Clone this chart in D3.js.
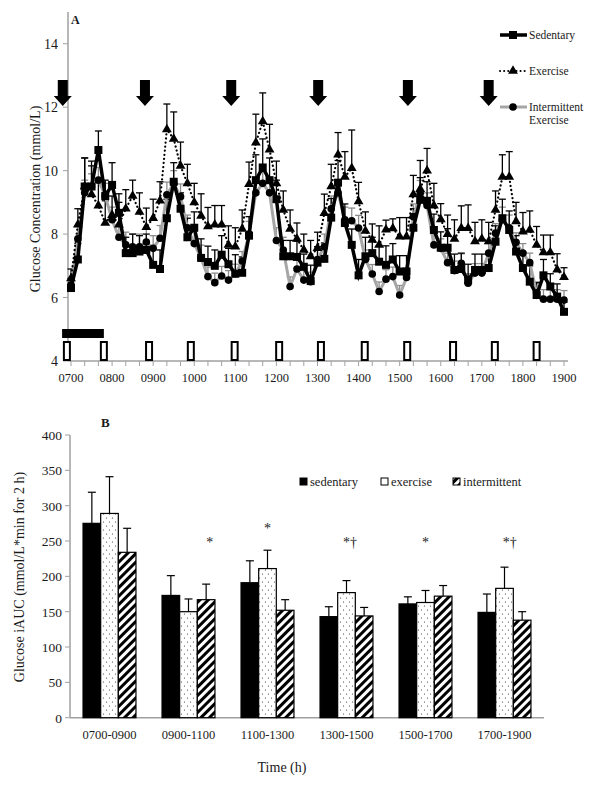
<!DOCTYPE html>
<html><head><meta charset="utf-8">
<script src="https://cdn.jsdelivr.net/npm/d3@7"></script>
<style>
body{margin:0;background:#fff}
text{font-family:"Liberation Serif","Times New Roman",serif;fill:#1a1a1a}
</style>
</head><body>
<svg id="c" width="601" height="789"></svg>
<script>
// ---------- Panel A data (10-min samples from 0700 to 1900) ----------
const timeLabels = ["0700","0800","0900","1000","1100","1200","1300","1400","1500","1600","1700","1800","1900"];
const sedentary = [6.30,7.20,9.50,9.50,10.65,9.20,9.55,8.67,7.40,7.40,7.45,7.50,7.03,6.90,8.50,9.65,8.80,7.90,8.20,7.25,
  7.12,7.00,7.35,7.05,6.75,6.78,7.95,9.70,10.10,9.70,9.10,7.30,7.30,7.28,6.97,6.52,7.10,7.22,8.52,9.62,
  8.35,7.66,6.70,7.30,7.40,7.13,7.03,7.20,6.82,6.82,8.20,9.08,9.05,8.13,7.57,7.57,6.87,6.90,6.55,6.87,
  6.87,6.93,7.76,8.50,8.13,7.45,6.93,6.50,6.08,6.70,6.35,6.03,5.55];
const exercise = [6.60,8.30,9.50,9.25,8.90,8.35,8.60,8.30,8.80,9.20,8.70,8.22,8.50,9.05,11.30,11.00,10.15,9.60,9.00,8.57,
  8.24,8.30,8.30,7.66,7.60,8.16,9.57,10.88,11.55,10.66,9.60,8.76,8.16,7.85,7.50,7.30,7.56,8.66,9.50,10.50,
  9.80,10.08,9.03,8.10,7.82,7.66,8.14,8.18,7.92,7.92,9.25,9.42,10.00,8.90,8.46,8.00,7.85,8.19,8.19,7.77,
  7.85,7.77,8.76,9.80,9.80,8.40,8.08,8.13,7.66,7.42,7.42,6.88,6.64];
const intermittent = [6.40,7.85,9.30,9.50,9.70,9.20,8.45,7.90,7.66,7.60,7.60,7.75,7.55,7.87,9.24,9.60,9.18,8.20,7.70,7.25,
  6.66,6.47,6.68,6.55,6.75,7.15,8.00,9.30,9.60,9.30,7.80,7.50,6.35,6.90,6.55,6.50,7.20,7.60,8.80,9.30,
  8.45,8.42,8.19,7.20,6.74,6.19,6.58,6.66,6.08,6.63,8.55,9.29,8.90,7.66,7.55,7.10,6.85,7.08,6.45,6.77,
  6.77,7.40,8.03,8.45,8.20,7.74,7.40,7.10,6.15,5.95,5.95,5.95,5.92];
const sedentarySE = [0.30,0.50,0.90,0.80,0.60,0.50,0.70,0.60,0.50,0.60,0.50,0.50,0.50,0.60,0.60,0.60,0.50,0.60,0.50,0.60,
  0.50,0.50,0.60,0.50,0.60,0.50,0.60,0.80,0.90,0.70,0.60,0.50,0.50,0.50,0.40,0.50,0.50,0.50,0.60,0.70,
  0.60,0.50,0.50,0.60,0.50,0.50,0.60,0.50,0.50,0.50,0.60,0.70,0.60,0.50,0.50,0.60,0.50,0.50,0.50,0.50,
  0.50,0.50,0.50,0.60,0.60,0.50,0.50,0.50,0.40,0.50,0.40,0.40,0.30];
const exerciseSE = [0.30,0.50,0.90,0.90,0.80,0.70,0.60,0.70,0.60,0.50,0.60,0.60,0.60,0.60,0.80,0.85,0.75,0.60,0.60,0.70,
  0.60,0.60,0.60,0.60,0.60,0.60,0.70,0.90,0.90,0.80,0.70,0.60,0.60,0.50,0.50,0.50,0.50,0.60,0.70,0.70,
  0.80,1.20,0.60,0.60,0.50,0.60,0.30,0.30,0.60,0.60,0.60,0.90,0.70,0.70,0.50,0.60,0.60,0.70,0.73,0.60,
  0.60,0.60,0.60,0.70,0.80,0.60,0.60,0.60,0.58,0.55,0.55,0.50,0.30];
const intermittentSE = [0.20,0.40,0.40,0.40,0.40,0.40,0.40,0.40,0.40,0.40,0.40,0.40,0.40,0.40,0.40,0.40,0.40,0.40,0.40,0.40,
  0.30,0.30,0.30,0.30,0.30,0.30,0.40,0.40,0.40,0.40,0.40,0.40,0.30,0.30,0.30,0.30,0.40,0.40,0.40,0.40,
  0.40,0.40,0.40,0.30,0.30,0.30,0.30,0.30,0.30,0.30,0.40,0.40,0.40,0.40,0.30,0.30,0.30,0.30,0.30,0.30,
  0.30,0.30,0.30,0.40,0.40,0.30,0.30,0.30,0.30,0.30,0.30,0.30,0.30];
const mealArrows = [-12,108,234,361,492,610];          // minutes after 0700
const breakMarks = [-6,48,114,175,239,304,365,429,491,558,619,680];
const exerciseBout = [-13,48];

// ---------- Panel B data ----------
const periods = ["0700-0900","0900-1100","1100-1300","1300-1500","1500-1700","1700-1900"];
const groups = ["sedentary","exercise","intermittent"];
const aucSed = [275,173,191,143,161,149];
const aucSedSE = [44,28,31,14,10,26];
const aucEx = [289,150,211,177,163,183];
const aucExSE = [52,18,26,17,17,30];
const aucInt = [234,167,152,144,172,138];
const aucIntSE = [34,22,15,12,15,12];
const sigMarks = ["","*","*","*†","*","*†"];

const svg = d3.select("#c");
svg.append("rect").attr("width",601).attr("height",789).attr("fill","#fff");
const defs = svg.append("defs");
const dots = defs.append("pattern").attr("id","dots").attr("patternUnits","userSpaceOnUse").attr("width",6).attr("height",8);
dots.append("rect").attr("width",6).attr("height",8).attr("fill","#fff");
dots.append("circle").attr("cx",1.5).attr("cy",2).attr("r",0.6).attr("fill","#333");
dots.append("circle").attr("cx",4.5).attr("cy",6).attr("r",0.6).attr("fill","#333");
const hatch = defs.append("pattern").attr("id","hatch").attr("patternUnits","userSpaceOnUse")
  .attr("width",6).attr("height",6).attr("patternTransform","rotate(45)");
hatch.append("rect").attr("width",6).attr("height",6).attr("fill","#fff");
hatch.append("rect").attr("x",0).attr("width",3).attr("height",6).attr("fill","#000");

// ================= PANEL A =================
const xA = d3.scaleLinear().domain([0,720]).range([71,564]);
const yA = d3.scaleLinear().domain([4,15]).range([361,12]);
const axisCol = "#a0a0a0";
const gA = svg.append("g");

// y axis
gA.append("line").attr("x1",68).attr("x2",68).attr("y1",yA(15)).attr("y2",yA(4)).attr("stroke",axisCol).attr("stroke-width",1.5);
const yTicksA = [4,6,8,10,12,14];
yTicksA.forEach(v=>{
  gA.append("line").attr("x1",63).attr("x2",68).attr("y1",yA(v)).attr("y2",yA(v)).attr("stroke",axisCol);
  gA.append("text").attr("x",58).attr("y",yA(v)+5).attr("text-anchor","end").attr("font-size",14).text(v);
});
// x axis
gA.append("line").attr("x1",68).attr("x2",568).attr("y1",361).attr("y2",361).attr("stroke",axisCol).attr("stroke-width",1.5);
d3.range(0,721,20).forEach(m=>{
  gA.append("line").attr("x1",xA(m)).attr("x2",xA(m)).attr("y1",361).attr("y2",366).attr("stroke",axisCol);
});
timeLabels.forEach((t,k)=>{
  gA.append("text").attr("x",xA(k*60)).attr("y",382).attr("text-anchor","middle").attr("font-size",12.5).text(t);
});
gA.append("text").attr("transform","translate(40,199) rotate(-90)").attr("text-anchor","middle").attr("font-size",14)
  .text("Glucose Concentration (mmol/L)");
gA.append("text").attr("x",71).attr("y",24).attr("font-size",12).attr("font-weight","bold").text("A");

// meal arrows
mealArrows.forEach(m=>{
  const cx = xA(m);
  gA.append("path").attr("d",`M${cx-5},80 L${cx+5},80 L${cx+5},96 L${cx+9},96 L${cx},106 L${cx-9},96 L${cx-5},96 Z`).attr("fill","#000");
});
// exercise bout & break markers
gA.append("rect").attr("x",xA(exerciseBout[0])).attr("y",329).attr("width",xA(exerciseBout[1])-xA(exerciseBout[0])).attr("height",9).attr("fill","#000");
breakMarks.forEach(m=>{
  gA.append("rect").attr("x",xA(m)-3).attr("y",342).attr("width",6).attr("height",18).attr("fill","#fff").attr("stroke","#000").attr("stroke-width",2);
});

const seriesA = [
  {vals:intermittent, se:intermittentSE, color:"#8c8c8c", errCol:"#8c8c8c"},
  {vals:exercise, se:exerciseSE, color:"#000", errCol:"#000"},
  {vals:sedentary, se:sedentarySE, color:"#000", errCol:"#000"}
];
// error bars
seriesA.forEach(s=>{
  s.vals.forEach((v,i)=>{
    const x = xA(i*10);
    gA.append("line").attr("x1",x).attr("x2",x).attr("y1",yA(v)).attr("y2",yA(v+s.se[i])).attr("stroke",s.errCol).attr("stroke-width",1.3);
    gA.append("line").attr("x1",x-3.5).attr("x2",x+3.5).attr("y1",yA(v+s.se[i])).attr("y2",yA(v+s.se[i])).attr("stroke",s.errCol).attr("stroke-width",1.3);
  });
});
const lineGen = d3.line().x((d,i)=>xA(i*10)).y(d=>yA(d));
gA.append("path").datum(intermittent).attr("d",lineGen).attr("fill","none").attr("stroke","#a6a6a6").attr("stroke-width",3);
gA.append("path").datum(exercise).attr("d",lineGen).attr("fill","none").attr("stroke","#000").attr("stroke-width",2.2)
  .attr("stroke-dasharray","0.1,4").attr("stroke-linecap","round");
gA.append("path").datum(sedentary).attr("d",lineGen).attr("fill","none").attr("stroke","#000").attr("stroke-width",3.5);

const sym = (type,size)=>d3.symbol().type(type).size(size)();
intermittent.forEach((v,i)=>gA.append("circle").attr("cx",xA(i*10)).attr("cy",yA(v)).attr("r",3.8).attr("fill","#000"));
exercise.forEach((v,i)=>gA.append("path").attr("d",sym(d3.symbolTriangle,42)).attr("transform",`translate(${xA(i*10)},${yA(v)})`).attr("fill","#000"));
sedentary.forEach((v,i)=>gA.append("rect").attr("x",xA(i*10)-4).attr("y",yA(v)-4).attr("width",8).attr("height",8).attr("fill","#000"));

// legend A
const legA = [
  {label:["Sedentary"], y:35, kind:"sq"},
  {label:["Exercise"], y:71, kind:"tri"},
  {label:["Intermittent","Exercise"], y:107, kind:"cir"}
];
legA.forEach(l=>{
  const ln = gA.append("line").attr("x1",500).attr("x2",527).attr("y1",l.y).attr("y2",l.y);
  if(l.kind==="sq"){ ln.attr("stroke","#000").attr("stroke-width",3.5);
    gA.append("rect").attr("x",509).attr("y",l.y-4).attr("width",8).attr("height",8).attr("fill","#000"); }
  if(l.kind==="tri"){ ln.attr("stroke","#000").attr("stroke-width",2).attr("stroke-dasharray","0.1,4").attr("stroke-linecap","round");
    gA.append("path").attr("d",sym(d3.symbolTriangle,42)).attr("transform",`translate(513,${l.y})`).attr("fill","#000"); }
  if(l.kind==="cir"){ ln.attr("stroke","#a6a6a6").attr("stroke-width",3);
    gA.append("circle").attr("cx",513).attr("cy",l.y).attr("r",3.8).attr("fill","#000"); }
  l.label.forEach((t,j)=>gA.append("text").attr("x",529).attr("y",l.y+4+j*13).attr("font-size",11.5).text(t));
});

// ================= PANEL B =================
const gB = svg.append("g");
const yB = d3.scaleLinear().domain([0,400]).range([717.7,435]);
const xB = d3.scaleBand().domain(periods).range([70,544]).paddingInner(0.33).paddingOuter(0.165);
const xS = d3.scaleBand().domain(groups).range([0,xB.bandwidth()]);

gB.append("line").attr("x1",70).attr("x2",70).attr("y1",yB(400)).attr("y2",yB(0)).attr("stroke",axisCol).attr("stroke-width",1.5);
gB.append("line").attr("x1",70).attr("x2",544).attr("y1",yB(0)).attr("y2",yB(0)).attr("stroke",axisCol).attr("stroke-width",1.5);
d3.range(0,401,50).forEach(v=>{
  gB.append("line").attr("x1",65).attr("x2",70).attr("y1",yB(v)).attr("y2",yB(v)).attr("stroke",axisCol);
  gB.append("text").attr("x",62).attr("y",yB(v)+5).attr("text-anchor","end").attr("font-size",13.5).text(v);
});
periods.forEach(p=>{
  gB.append("text").attr("x",xB(p)+xB.bandwidth()/2).attr("y",739).attr("text-anchor","middle").attr("font-size",12.5).text(p);
});
gB.append("text").attr("x",282).attr("y",772).attr("text-anchor","middle").attr("font-size",14).text("Time (h)");
gB.append("text").attr("transform","translate(24,577) rotate(-90)").attr("text-anchor","middle").attr("font-size",14)
  .text("Glucose iAUC (mmol/L*min for 2 h)");
gB.append("text").attr("x",101).attr("y",427).attr("font-size",13).attr("font-weight","bold").text("B");

const barSets = [
  {key:"sedentary", vals:aucSed, se:aucSedSE, fill:"#000"},
  {key:"exercise", vals:aucEx, se:aucExSE, fill:"url(#dots)"},
  {key:"intermittent", vals:aucInt, se:aucIntSE, fill:"url(#hatch)"}
];
barSets.forEach(b=>{
  b.vals.forEach((v,i)=>{
    const x = xB(periods[i]) + xS(b.key);
    const w = xS.bandwidth();
    const top = yB(v+b.se[i]);
    gB.append("line").attr("x1",x+w/2).attr("x2",x+w/2).attr("y1",yB(v)).attr("y2",top).attr("stroke","#000").attr("stroke-width",1.2);
    gB.append("line").attr("x1",x+w/2-4).attr("x2",x+w/2+4).attr("y1",top).attr("y2",top).attr("stroke","#000").attr("stroke-width",1.2);
    gB.append("rect").attr("x",x).attr("y",yB(v)).attr("width",w).attr("height",yB(0)-yB(v))
      .attr("fill",b.fill).attr("stroke","#000").attr("stroke-width",1.2);
  });
});
// significance marks
const sigY = [0,541.7,528,541.7,541.7,541.7];
const sigDx = [0,1.2,0,0.2,0,0.3];
sigMarks.forEach((s,i)=>{
  if(!s) return;
  const cx = xB(periods[i]) + xB.bandwidth()/2 + sigDx[i]*xS.bandwidth();
  gB.append("text").attr("x",cx).attr("y",sigY[i]+5).attr("text-anchor","middle").attr("font-size",14).text(s);
});
// legend B
const legB = [{t:"sedentary",x:300,fill:"#000"},{t:"exercise",x:381,fill:"#fff"},{t:"intermittent",x:453,fill:"url(#hatch)"}];
legB.forEach(l=>{
  gB.append("rect").attr("x",l.x).attr("y",478).attr("width",7).attr("height",7).attr("fill",l.fill).attr("stroke","#000").attr("stroke-width",1);
  gB.append("text").attr("x",l.x+10).attr("y",486).attr("font-size",12.5).text(l.t);
});
</script>
</body></html>
